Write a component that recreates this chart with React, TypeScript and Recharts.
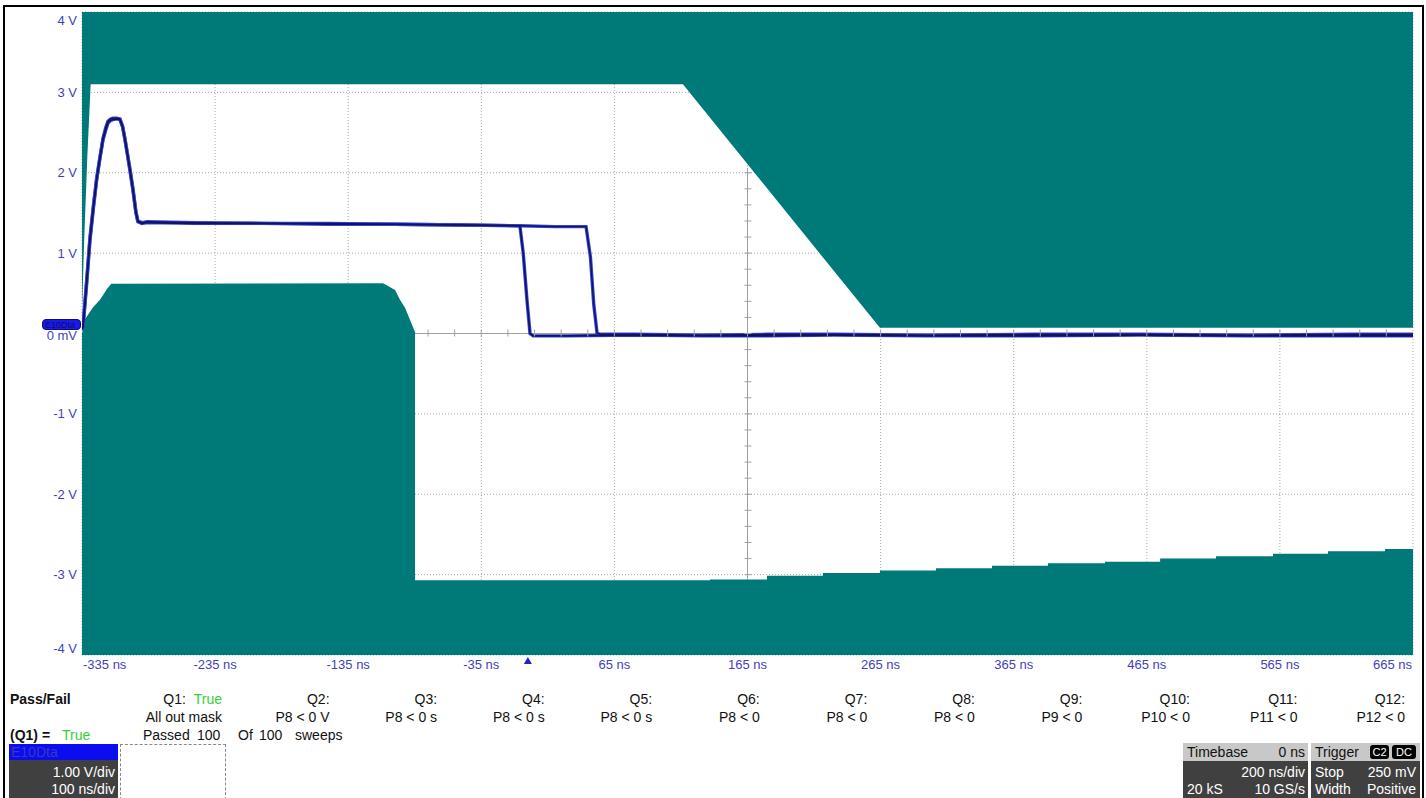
import {
  ComposedChart,
  Area,
  Line,
  XAxis,
  YAxis,
  CartesianGrid,
  ReferenceLine,
  ReferenceDot,
} from "recharts";

// axis ticks (ns / V)
const timeTicks = [-335, -235, -135, -35, 65, 165, 265, 365, 465, 565, 665];
const voltTicks = [-4, -3, -2, -1, 0, 1, 2, 3, 4];

// mask: upper (keep-out above the trace)
const upperMaskT = [-335, -333.5, -331, -328.5, 116.5, 264.5, 665];
const upperMaskLow = [0.25, 1.1, 2.2, 3.1, 3.1, 0.07, 0.07];

// mask: lower (keep-out below the trace), staircase on the right
const lowerMaskT = [
  -335, -333, -327, -321.5, -316, -313, -108.9, -106.1, -99.8, -96.1, -92.3, -88.6, -84.8, -84.8,
  136.8, 136.8, 179.6, 179.6, 221.7, 221.7, 264.5, 264.5, 306.6, 306.6, 348.7, 348.7,
  390.8, 390.8, 433.6, 433.6, 475, 475, 517, 517, 559.8, 559.8, 601.1, 601.1, 644, 644, 665,
];
const lowerMaskHigh = [
  0.0, 0.17, 0.32, 0.42, 0.56, 0.62, 0.626, 0.6, 0.54, 0.42, 0.32, 0.17, 0.02, -3.07,
  -3.07, -3.06, -3.06, -3.015, -3.015, -2.98, -2.98, -2.95, -2.95, -2.92, -2.92, -2.89,
  -2.89, -2.86, -2.86, -2.84, -2.84, -2.8, -2.8, -2.77, -2.77, -2.74, -2.74, -2.71, -2.71, -2.68, -2.68,
];

// sweep A (early falling edge)
const traceAT = [
  -335, -334.2, -331.5, -329, -326.5, -324, -321.5, -319.2, -317.2, -315.5, -313.5, -311.7,
  -309, -306.5, -304.5, -302.7, -301, -299, -296.7, -294.5, -293, -290, -286, -250, -200,
  -150, -100, -50, -6, -3.5, -0.7, 1.6, 4, 30, 80, 130, 180, 230, 300, 380, 460, 540, 620, 665,
];
const traceAV = [
  0.05, 0.08, 0.62, 1.16, 1.55, 1.91, 2.18, 2.41, 2.53, 2.62, 2.65, 2.66,
  2.67, 2.66, 2.57, 2.41, 2.24, 2.03, 1.78, 1.5, 1.39, 1.37, 1.38, 1.37, 1.37,
  1.36, 1.36, 1.35, 1.34, 1.0, 0.42, 0.0, -0.03, -0.03, -0.02, -0.03, -0.03, -0.02, -0.03, -0.03, -0.02, -0.03, -0.03, -0.03,
];

// sweep B (late falling edge)
const traceBT = [
  -335, -334.2, -331.5, -329, -326.5, -324, -321.5, -319.2, -317.2, -315.5, -313.5, -311.7,
  -309, -306.5, -304.5, -302.7, -301, -299, -296.7, -294.5, -293, -290, -286, -250, -200,
  -150, -100, -50, -6, 20, 43.7, 47, 49.5, 52, 55, 80, 130, 180, 230, 300, 380, 460, 540, 620, 665,
];
const traceBV = [
  0.05, 0.1, 0.66, 1.2, 1.58, 1.93, 2.2, 2.43, 2.56, 2.64, 2.67, 2.68,
  2.68, 2.67, 2.58, 2.42, 2.25, 2.05, 1.8, 1.52, 1.4, 1.38, 1.39, 1.38, 1.37,
  1.37, 1.36, 1.35, 1.34, 1.33, 1.33, 0.95, 0.36, 0.0, -0.01, -0.01, -0.02, -0.01, -0.01, -0.02, -0.01, -0.01, -0.02, -0.01, -0.01,
];

const queryNames = ["Q1:", "Q2:", "Q3:", "Q4:", "Q5:", "Q6:", "Q7:", "Q8:", "Q9:", "Q10:", "Q11:", "Q12:"];
const queryConds = [
  "All out mask", "P8 < 0 V", "P8 < 0 s", "P8 < 0 s", "P8 < 0 s", "P8 < 0",
  "P8 < 0", "P8 < 0", "P9 < 0", "P10 < 0", "P11 < 0", "P12 < 0",
];

const TEAL = "#007a78";
const AXIS_BLUE = "#3f3fc0";
const FONT = '"Liberation Sans", Arial, sans-serif';

const upperMask = upperMaskT.map((t, i) => ({ t, band: [upperMaskLow[i], 4] }));
const lowerMask = lowerMaskT.map((t, i) => ({ t, band: [-4, lowerMaskHigh[i]] }));
const traceA = traceAT.map((t, i) => ({ t, v: traceAV[i] }));
const traceB = traceBT.map((t, i) => ({ t, v: traceBV[i] }));

// minor ticks on the centre cross
const hTicks: number[] = [];
for (let t = -75; t <= 645; t += 20) hTicks.push(t);
const vTicks: number[] = [];
for (let k = -15; k <= 10; k++) vTicks.push(k * 0.2);

function XTick({ x, payload }: any) {
  const v = payload.value;
  let anchor = "middle";
  let px = x;
  if (v === timeTicks[0]) { anchor = "start"; px = x + 1; }
  if (v === timeTicks[timeTicks.length - 1]) { anchor = "end"; px = x - 1; }
  return (
    <text x={px} y={669} textAnchor={anchor} fill={AXIS_BLUE} fontSize={13} fontFamily={FONT}>
      {`${v} ns`}
    </text>
  );
}

function YTick({ y, payload }: any) {
  const v = payload.value;
  let py = y;
  if (v === 4) py = y + 8;
  if (v === -4) py = y - 7;
  if (v === 0) py = y + 2;
  return (
    <text x={77} y={py} dy="0.35em" textAnchor="end" fill={AXIS_BLUE} fontSize={13} fontFamily={FONT}>
      {v === 0 ? "0 mV" : `${v} V`}
    </text>
  );
}

const abs = (left: number, top: number, extra: any = {}) => ({
  position: "absolute" as const,
  left,
  top,
  lineHeight: "16px",
  whiteSpace: "nowrap" as const,
  ...extra,
});

function rightText(right: number, top: number, children: any, extra: any = {}) {
  return (
    <div style={{ position: "absolute", left: right - 200, width: 200, top, textAlign: "right", lineHeight: "16px", whiteSpace: "nowrap", ...extra }}>
      {children}
    </div>
  );
}

export default function App() {
  const colRight = (i: number) => 222 + i * 107.55;
  return (
    <div style={{ position: "fixed", left: 0, top: 0, width: 1426, height: 798, background: "#fff", overflow: "hidden", fontFamily: FONT, fontSize: 14, color: "#111" }}>
      <div style={{ position: "absolute", left: 3, top: 5, width: 1417, height: 800, border: "2px solid #000" }} />
      <div style={{ position: "absolute", left: 0, top: 0 }}>
        <ComposedChart width={1426} height={680} margin={{ top: 12, right: 13, bottom: 5, left: 0 }}>
          <CartesianGrid stroke="#a8a8a8" strokeDasharray="1 2" horizontalValues={voltTicks} verticalValues={timeTicks} />
          <XAxis
            type="number"
            dataKey="t"
            domain={[-335, 665]}
            ticks={timeTicks}
            allowDataOverflow
            axisLine={false}
            tickLine={false}
            height={20}
            tick={<XTick />}
            interval={0}
          />
          <YAxis
            type="number"
            domain={[-4, 4]}
            ticks={voltTicks}
            allowDataOverflow
            axisLine={false}
            tickLine={false}
            width={82}
            tick={<YTick />}
            interval={0}
          />
          <ReferenceLine segment={[{ x: 165, y: -3.05 }, { x: 165, y: 2.05 }]} stroke="#a0a0a0" strokeWidth={1} />
          <ReferenceLine segment={[{ x: -84.8, y: 0 }, { x: 665, y: 0 }]} stroke="#a0a0a0" strokeWidth={1} />
          {hTicks.map((t) => (
            <ReferenceDot key={"h" + t} x={t} y={0} shape={(p: any) => <line x1={p.cx} x2={p.cx} y1={p.cy - 4} y2={p.cy + 3} stroke="#a0a0a0" />} />
          ))}
          {vTicks.map((v) => (
            <ReferenceDot key={"v" + v} x={165} y={v} shape={(p: any) => <line x1={p.cx - 3} x2={p.cx + 4} y1={p.cy} y2={p.cy} stroke="#a0a0a0" />} />
          ))}
          <Area data={upperMask} dataKey="band" type="linear" stroke="none" fill={TEAL} fillOpacity={1} isAnimationActive={false} />
          <Area data={lowerMask} dataKey="band" type="linear" stroke="none" fill={TEAL} fillOpacity={1} isAnimationActive={false} />
          <Line data={traceB} dataKey="v" type="linear" stroke="#3444d4" strokeWidth={3.4} dot={false} isAnimationActive={false} />
          <Line data={traceA} dataKey="v" type="linear" stroke="#3444d4" strokeWidth={3.4} dot={false} isAnimationActive={false} />
          <Line data={traceB} dataKey="v" type="linear" stroke="#121262" strokeWidth={1.4} dot={false} isAnimationActive={false} />
          <Line data={traceA} dataKey="v" type="linear" stroke="#121262" strokeWidth={1.6} dot={false} isAnimationActive={false} />
          <ReferenceDot
            x={0}
            y={-4}
            shape={(p: any) => (
              <polygon points={`${p.cx},${p.cy + 2} ${p.cx - 4},${p.cy + 9} ${p.cx + 4},${p.cy + 9}`} fill="#2020d0" />
            )}
          />
        </ComposedChart>
      </div>

      {/* channel marker */}
      <div style={{ position: "absolute", left: 42, top: 319, width: 39, height: 11, background: "#1a1ae8", border: "1px solid #0a0a70", borderRadius: 4, fontSize: 9, lineHeight: "11px", color: "#0a0a70", overflow: "hidden", paddingLeft: 2, boxSizing: "border-box" }}>
        E10Dta
      </div>

      {/* pass/fail panel */}
      <div style={abs(10, 691, { fontWeight: "bold" })}>Pass/Fail</div>
      {queryNames.map((q, i) =>
        <div key={q}>
          {rightText(colRight(i), 691, i === 0 ? <span>{q}&nbsp;&nbsp;<span style={{ color: "#35d035" }}>True</span></span> : q)}
          {rightText(colRight(i), 709, queryConds[i])}
        </div>
      )}
      <div style={abs(10, 727, { fontWeight: "bold" })}>(Q1) =</div>
      <div style={abs(62, 727, { color: "#35d035" })}>True</div>
      <div style={abs(143, 727)}>Passed</div>
      <div style={abs(197, 727)}>100</div>
      <div style={abs(238, 727)}>Of</div>
      <div style={abs(259, 727)}>100</div>
      <div style={abs(295, 727)}>sweeps</div>

      {/* channel descriptor */}
      <div style={{ position: "absolute", left: 9, top: 744, width: 109, height: 16, background: "#0c0cf0", color: "#3a3ab8", lineHeight: "16px", paddingLeft: 2, boxSizing: "border-box" }}>E10Dta</div>
      <div style={{ position: "absolute", left: 9, top: 760, width: 109, height: 38, background: "#404040" }} />
      {rightText(115, 764, "1.00 V/div", { color: "#fff" })}
      {rightText(115, 781, "100 ns/div", { color: "#fff" })}
      <div style={{ position: "absolute", left: 120, top: 744, width: 106, height: 56, border: "1px dashed #888", boxSizing: "border-box" }} />

      {/* timebase */}
      <div style={{ position: "absolute", left: 1183, top: 743, width: 125, height: 18, background: "#c8c8c8" }} />
      <div style={{ position: "absolute", left: 1183, top: 761, width: 125, height: 37, background: "#404040" }} />
      <div style={abs(1187, 744)}>Timebase</div>
      {rightText(1305, 744, "0 ns")}
      {rightText(1305, 764, "200 ns/div", { color: "#fff" })}
      <div style={abs(1187, 781, { color: "#fff" })}>20 kS</div>
      {rightText(1305, 781, "10 GS/s", { color: "#fff" })}

      {/* trigger */}
      <div style={{ position: "absolute", left: 1311, top: 743, width: 109, height: 18, background: "#c8c8c8" }} />
      <div style={{ position: "absolute", left: 1311, top: 761, width: 109, height: 37, background: "#404040" }} />
      <div style={abs(1315, 744)}>Trigger</div>
      <div style={{ position: "absolute", left: 1370, top: 745, width: 19, height: 14, background: "#000", color: "#fff", borderRadius: 3, fontSize: 11, lineHeight: "14px", textAlign: "center" }}>C2</div>
      <div style={{ position: "absolute", left: 1392, top: 745, width: 24, height: 14, background: "#000", color: "#fff", borderRadius: 3, fontSize: 11, lineHeight: "14px", textAlign: "center" }}>DC</div>
      <div style={abs(1315, 764, { color: "#fff" })}>Stop</div>
      {rightText(1416, 764, "250 mV", { color: "#fff" })}
      <div style={abs(1315, 781, { color: "#fff" })}>Width</div>
      {rightText(1416, 781, "Positive", { color: "#fff" })}
    </div>
  );
}
